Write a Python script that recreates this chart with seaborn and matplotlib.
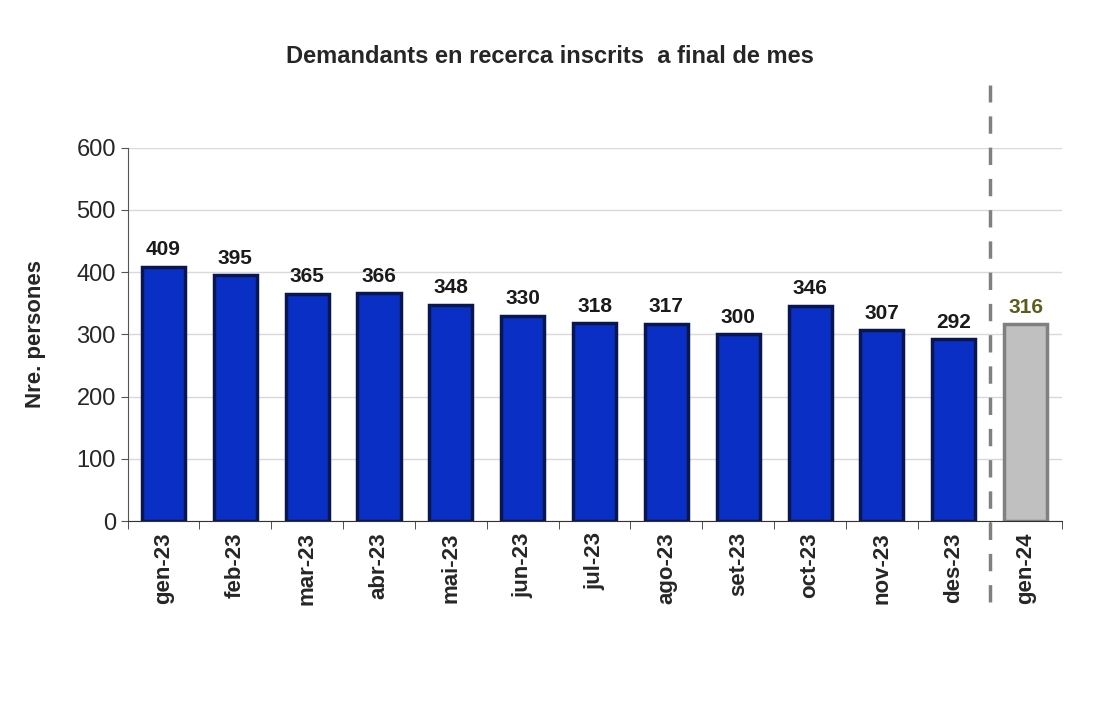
import matplotlib
matplotlib.use("Agg")
import matplotlib.pyplot as plt
import numpy as np
import pandas as pd
import seaborn as sns

# ── data ──────────────────────────────────────────────────────────────────────
months = ["gen-23", "feb-23", "mar-23", "abr-23", "mai-23", "jun-23", "jul-23",
          "ago-23", "set-23", "oct-23", "nov-23", "des-23", "gen-24"]
values = [409, 395, 365, 366, 348, 330, 318, 317, 300, 346, 307, 292, 316]

df = pd.DataFrame({"mes": months, "n": values})
colors = ["#0a2fc4"] * 12 + ["#c0c0c0"]
edges = ["#0a1650"] * 12 + ["#808080"]

sns.set_style("white")
plt.rcParams["font.family"] = "Liberation Sans"
fig = plt.figure(figsize=(11, 7.1), dpi=100)
ax = fig.add_axes([0.116, 0.266, 0.849, 0.526])

sns.barplot(data=df, x="mes", y="n", hue="mes", palette=colors, legend=False,
            width=0.6, ax=ax, linewidth=2.5, saturation=1)
for patch, ec in zip(ax.patches, edges):
    patch.set_edgecolor(ec)

for i, v in enumerate(values):
    ax.text(i, v + 12, str(v), ha="center", va="bottom", fontsize=15,
            fontweight="bold", color="#1a1a1a" if i < 12 else "#5c5c1e")

ax.set_ylim(0, 600)
ax.set_xlim(-0.5, len(months) - 0.5)
ax.set_yticks(range(0, 601, 100))
ax.yaxis.grid(True, color="#d9d9d9", linewidth=1)
ax.set_axisbelow(True)
for s in ["top", "right"]:
    ax.spines[s].set_visible(False)
ax.spines["left"].set_color("#555555")
ax.spines["bottom"].set_color("#333333")

ax.set_xlabel("")
ax.set_ylabel("Nre. persones", fontsize=16, fontweight="bold", labelpad=22)
ax.tick_params(axis="y", labelsize=17, length=5, color="#555555", left=True)
ax.tick_params(axis="x", which="major", length=0, labelsize=16, pad=8)
plt.setp(ax.get_xticklabels(), rotation=90, fontweight="bold")
ax.set_xticks(np.arange(-0.5, len(months), 1), minor=True)
ax.tick_params(axis="x", which="minor", length=6, color="#333333", bottom=True)

ax.plot([11.5, 11.5], [-130, 700], ls=(0, (5, 4)), color="#808080",
        lw=2.5, clip_on=False)

fig.text(0.5, 0.92, "Demandants en recerca inscrits  a final de mes",
         ha="center", va="center", fontsize=17, fontweight="bold")

fig.savefig("out.png")
